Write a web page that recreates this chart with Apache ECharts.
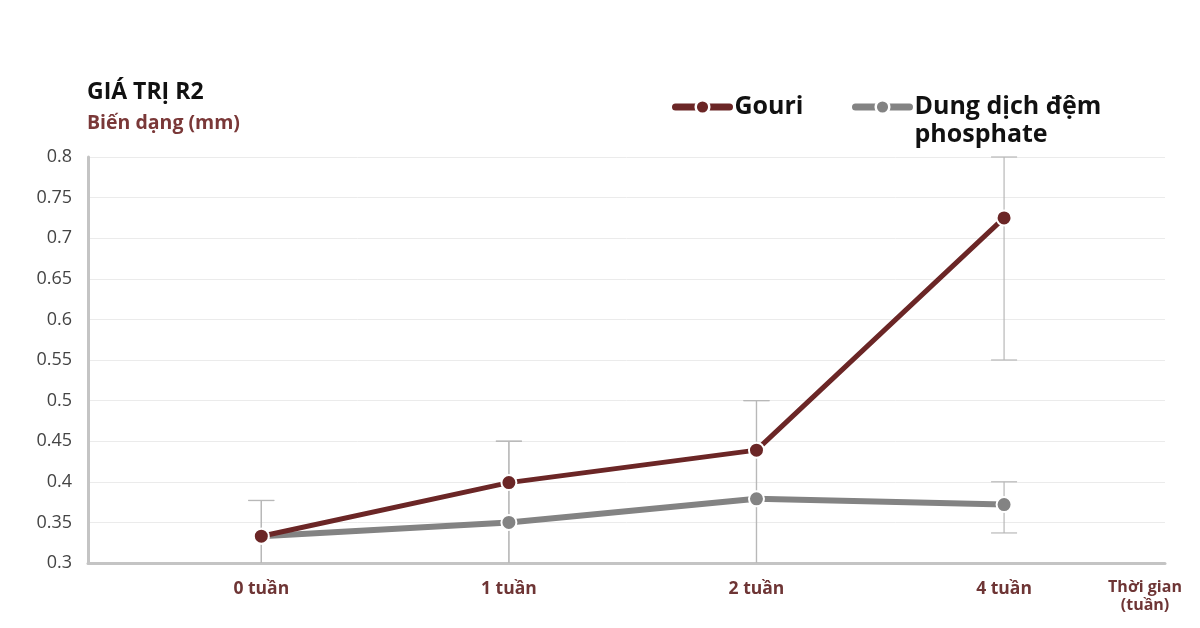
<!DOCTYPE html>
<html><head><meta charset="utf-8">
<script src="https://cdn.jsdelivr.net/npm/echarts@6/dist/echarts.min.js"></script>
<style>html,body{margin:0;padding:0;background:#fff}#c{width:1200px;height:628px}</style>
</head><body><div id="c"></div>
<script>
const categories = ['0 tuần', '1 tuần', '2 tuần', '4 tuần'];
const yTicks = [0.3, 0.35, 0.4, 0.45, 0.5, 0.55, 0.6, 0.65, 0.7, 0.75, 0.8];
const gouri = [0.333, 0.399, 0.439, 0.725];
const phosphate = [0.333, 0.350, 0.379, 0.372];
const gouriHigh = [0.377, 0.45, 0.5, 0.8];
const gouriLow = [0.29, 0.29, 0.29, 0.55];
const phosHigh = [0.377, 0.45, 0.5, 0.4];
const phosLow = [0.29, 0.29, 0.29, 0.337];
const seriesNames = ['Gouri', 'Dung dịch đệm phosphate'];

const cMaroon = '#6b2626', cGray = '#838383', cLabel = '#6e3535';
const pts = arr => arr.map((v, i) => [i, v]);
const errData = (lo, hi) => lo.map((l, i) => [i, l, hi[i]]);

function errRender(params, api) {
  const x = api.value(0), lo = api.value(1), hi = api.value(2);
  const p1 = api.coord([x, hi]), p0 = api.coord([x, Math.max(lo, 0.3)]);
  const w = 13;
  const st = { stroke: '#b8b8b8', lineWidth: 1.2 };
  const children = [
    { type: 'line', shape: { x1: p1[0], y1: p1[1], x2: p0[0], y2: p0[1] }, style: st },
    { type: 'line', shape: { x1: p1[0] - w, y1: p1[1], x2: p1[0] + w, y2: p1[1] }, style: st }
  ];
  if (lo >= 0.3) children.push({ type: 'line', shape: { x1: p0[0] - w, y1: p0[1], x2: p0[0] + w, y2: p0[1] }, style: st });
  return { type: 'group', children };
}

const chart = echarts.init(document.getElementById('c'));
const font = '"Open Sans", "Noto Sans", sans-serif';
const legendCommon = {
  padding: 0, itemWidth: 54, itemHeight: 17, itemGap: 8,
  lineStyle: { width: 7, cap: 'round' },
  itemStyle: { borderColor: '#fff', borderWidth: 2.5 },
  textStyle: { fontSize: 25, fontWeight: 'bold', color: '#111', fontFamily: font, lineHeight: 28 }
};
chart.setOption({
  animation: false,
  textStyle: { fontFamily: font },
  title: [
    { text: 'GIÁ TRỊ R2', left: 87, top: 81, padding: 0, textStyle: { fontSize: 23, fontWeight: 'bold', color: '#111', fontFamily: font } },
    { text: 'Biến dạng (mm)', left: 87, top: 113, padding: 0, textStyle: { fontSize: 19.5, fontWeight: 'bold', color: '#7a3838', fontFamily: font } }
  ],
  legend: [
    Object.assign({}, legendCommon, { data: [seriesNames[0]], left: 672, top: 93, itemGap: 10 }),
    Object.assign({}, legendCommon, { data: [seriesNames[1]], left: 852, top: 65,
      formatter: n => ' \n' + n.replace(' phosphate', '\nphosphate') })
  ],
  grid: { left: 88, right: 35, top: 157, bottom: 65, containLabel: false },
  xAxis: {
    type: 'value', min: -0.7, max: 3.65,
    axisLine: { show: true, onZero: false, lineStyle: { color: '#c4c4c4', width: 3 } },
    axisTick: { show: false },
    splitLine: { show: false },
    axisLabel: {
      customValues: categories.map((c, i) => i),
      formatter: v => categories[Math.round(v)] || '',
      margin: 17, fontSize: 17.5, fontWeight: 'bold', color: cLabel, fontFamily: font
    },
    name: 'Thời gian\n(tuần)', nameLocation: 'end', nameGap: -20,
    nameTextStyle: { fontSize: 16, fontWeight: 'bold', color: cLabel, lineHeight: 18, align: 'center', verticalAlign: 'top', padding: [15, 0, 0, 0], fontFamily: font }
  },
  yAxis: {
    type: 'value', min: 0.3, max: 0.8, interval: 0.05,
    axisLine: { show: true, onZero: false, lineStyle: { color: '#c4c4c4', width: 3 } },
    axisTick: { show: false },
    splitLine: { lineStyle: { color: '#ebebeb', width: 1 } },
    axisLabel: {
      customValues: yTicks,
      formatter: v => String(+v.toFixed(2)),
      margin: 16, fontSize: 18, color: '#444', fontFamily: font
    }
  },
  series: [
    { type: 'custom', name: 'errG', data: errData(gouriLow, gouriHigh), renderItem: errRender, z: 1, silent: true },
    { type: 'custom', name: 'errP', data: errData(phosLow, phosHigh), renderItem: errRender, z: 1, silent: true },
    { type: 'line', name: seriesNames[1], data: pts(phosphate), symbol: 'circle', symbolSize: 15,
      lineStyle: { color: cGray, width: 6 }, itemStyle: { color: cGray, borderColor: '#fff', borderWidth: 2 }, z: 3 },
    { type: 'line', name: seriesNames[0], data: pts(gouri), symbol: 'circle', symbolSize: 15,
      lineStyle: { color: cMaroon, width: 5 }, itemStyle: { color: cMaroon, borderColor: '#fff', borderWidth: 2 }, z: 4 }
  ]
});
</script></body></html>
